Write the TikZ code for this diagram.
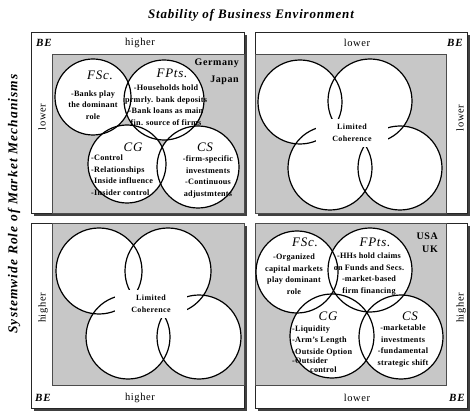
\documentclass[tikz,border=0pt]{standalone}
\usepackage{fontspec}
\setmainfont{Liberation Serif}
\usetikzlibrary{positioning}

\begin{document}
\begin{tikzpicture}[x=1pt,y=-1pt]
        \tikzset{frame/.style={draw=black!85, fill=white, line width=0.8pt},
        drop/.style={fill=black!75, draw=none},
        field/.style={draw=black!70, fill=black!22, line width=0.5pt},
        ring/.style={draw, circle, line width=1.2pt, inner sep=0pt, minimum size=#1},
        ring/.default=80pt,
        hd/.style={font=\itshape\fontsize{13}{13}\selectfont\addfontfeature{LetterSpace=6}, inner sep=0pt},
        txt/.style={font=\bfseries\fontsize{8.2}{11.5}\selectfont\addfontfeature{LetterSpace=3}, align=center, inner sep=0pt},
        side/.style={font=\fontsize{10.5}{10.5}\selectfont\addfontfeature{LetterSpace=6}, inner sep=0pt},
        be/.style={font=\bfseries\itshape\fontsize{11}{11}\selectfont\addfontfeature{LetterSpace=8}, inner sep=0pt},
        land/.style={font=\bfseries\fontsize{10}{10}\selectfont\addfontfeature{LetterSpace=6}, inner sep=0pt},
        patch/.style={fill=white, align=center, inner sep=0pt, minimum width=72pt, minimum height=28pt,
            font=\bfseries\fontsize{8}{12}\selectfont\addfontfeature{LetterSpace=5}},
        axis/.style={font=\bfseries\itshape\fontsize{13}{13}\selectfont\addfontfeature{LetterSpace=6}, inner sep=0pt}
        }
        \useasboundingbox (0,0) rectangle (474,414);

%% axis titles
        \node [axis] (stab) at (251,15) {Stability of Business Environment};
        \node [axis, rotate=90, font=\bfseries\itshape\fontsize{13.5}{13.5}\selectfont\addfontfeature{LetterSpace=8}] (role) at (14,204) {Systemwide Role of Market Mechanisms};

%% panels: outer box, shadow, grey field
        \foreach \xa/\ya/\xb/\yb/\ga/\gb/\gc/\gd in {31/32/244/213/52/54/244/213,
                255/32/467/213/255/54/446/213,
                31/223/244/408/52/223/244/385,
                255/223/467/408/255/223/446/385}{
            \fill [drop] (\xa+3,\ya+3) rectangle (\xb+3,\yb+3);
            \draw [frame] (\xa,\ya) rectangle (\xb,\yb);
            \draw [field] (\ga,\gb) rectangle (\gc,\gd);
        }

%% white discs under the rings
        \foreach \cx/\cy/\r in {93/97/38, 164/100/40, 127/164/39, 198/167/41,
                300/102/42, 370/101/42, 330/168/42, 400/168/42,
                99/271/43, 168/271/43, 128/337/42, 199/337/42,
                297/272/41, 370/270/42, 332/336/42, 401/337/42}
            \fill [white] (\cx,\cy) circle (\r pt);

%% rings
        \foreach \n/\cx/\cy/\d in {gfsc/93/97/76pt, gfpts/164/100/80pt, gcg/127/164/78pt, gcs/198/167/82pt,
                ua/300/102/84pt, ub/370/101/84pt, uc/330/168/84pt, ud/400/168/84pt,
                la/99/271/86pt, lb/168/271/86pt, lc/128/337/84pt, ld/199/337/84pt,
                afsc/297/272/82pt, afpts/370/270/84pt, acg/332/336/84pt, acs/401/337/84pt}
            \node [ring=\d] (\n) at (\cx,\cy) {};

%% top left: Germany, Japan
        \node [be] (be1) at (44,43) {BE};
        \node [side] (hi1) at (140,43) {higher};
        \node [side, rotate=90] (lo1) at (42,117) {lower};
        \node [land, anchor=east] (ger) at (239,63) {Germany};
        \node [land, anchor=east] (jap) at (239,80) {Japan};
        \node [hd] (gfsct) at (100,75) {FSc.};
        \node [txt] (gfscb) at (93,105) {-Banks play\\the dominant\\role};
        \node [hd] (gfptst) at (172,73) {FPts.};
        \node [txt] (gfptsb) at (166,105) {-Households hold\\prmrly. bank deposits\\-Bank loans as main\\fin. source of firms};
        \node [hd] (gcgt) at (133,147) {CG};
        \node [txt, align=left, anchor=west] (gcgb) at (91,175) {-Control\\-Relationships\\-Inside influence\\-Insider control};
        \node [hd] (gcst) at (205,147) {CS};
        \node [txt] (gcsb) at (208,177) {-firm-specific\\investments\\-Continuous\\adjustmtents};

%% top right
        \node [side] (lo2) at (357,43) {lower};
        \node [be] (be2) at (455,43) {BE};
        \node [side, rotate=90] (lo3) at (460,118) {lower};
        \node [patch] (lim1) at (352,133) {Limited\\Coherence};

%% bottom left
        \node [be] (be3) at (43,398) {BE};
        \node [side] (hi2) at (140,398) {higher};
        \node [side, rotate=90] (hi3) at (43,308) {higher};
        \node [patch] (lim2) at (151,304) {Limited\\Coherence};

%% bottom right: USA, UK
        \node [side] (lo4) at (357,398) {lower};
        \node [be] (be4) at (457,398) {BE};
        \node [side, rotate=90] (hi4) at (461,308) {higher};
        \node [land, anchor=east] (usa) at (438,236) {USA};
        \node [land, anchor=east] (uk) at (438,249) {UK};
        \node [hd] (afsct) at (305,242) {FSc.};
        \node [txt] (afscb) at (294,274) {-Organized\\capital markets\\play dominant\\role};
        \node [hd] (afptst) at (375,242) {FPts.};
        \node [txt] (afptsb) at (369,274) {-HHs hold claims\\on Funds and Secs.\\-market-based\\firm financing};
        \node [hd] (acgt) at (328,316) {CG};
        \node [txt, align=left, anchor=west] (acgb) at (292,349) {-Liquidity\\-Arm's Length\\-Outside Option\\[-2.5pt]-Outsider\\[-2.5pt]\hspace{18pt}control};
        \node [hd] (acst) at (410,316) {CS};
        \node [txt] (acsb) at (403,346) {-marketable\\investments\\-fundamental\\strategic shift};
    \end{tikzpicture}
\end{document}
